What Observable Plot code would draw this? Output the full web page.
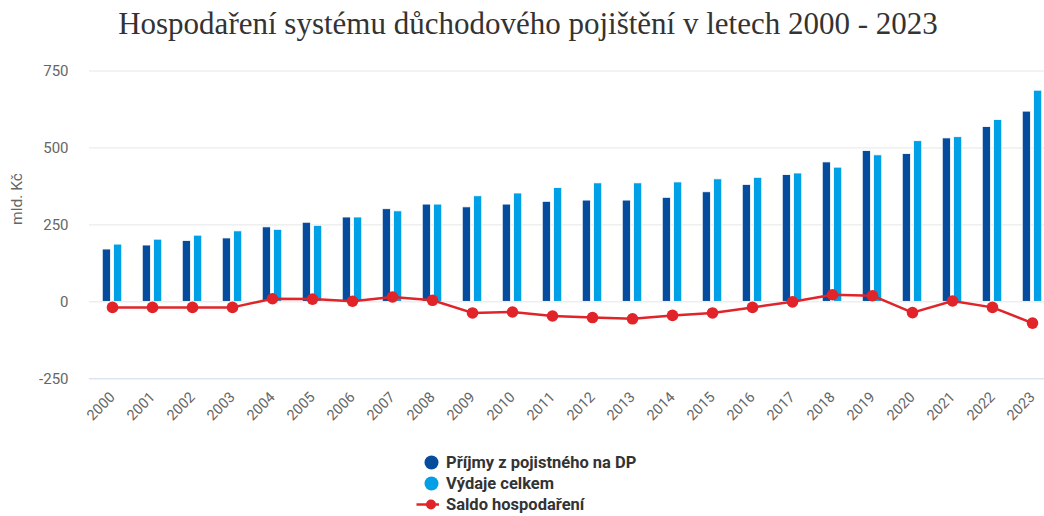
<!DOCTYPE html>
<html>
<head>
<meta charset="utf-8">
<script src="https://cdn.jsdelivr.net/npm/d3@7"></script>
<script src="https://cdn.jsdelivr.net/npm/@observablehq/plot@0.6"></script>
<style>
  html, body { margin: 0; padding: 0; background: #fff; }
  #wrap { position: relative; width: 1044px; height: 516px; overflow: hidden; }
  #title { position: absolute; left: 0; top: 8px; width: 1056px; text-align: center;
    font-family: "Liberation Serif", serif; font-size: 31px; line-height: 31px; color: #333; white-space: nowrap; }
  #chart { position: absolute; left: 0; top: 0; }
  #legend { position: absolute; left: 416px; top: 452px; font-family: Roboto, sans-serif; font-weight: bold;
    font-size: 16.5px; color: #333; }
  .row { display: flex; align-items: center; height: 21px; }
  .row svg { width: 24px; height: 21px; margin-right: 6px; }
</style>
</head>
<body>
<div id="wrap">
  <div id="title">Hospodaření systému důchodového pojištění v letech 2000 - 2023</div>
  <div id="chart"></div>
  <div id="legend"></div>
</div>
<script>
const years = ["2000","2001","2002","2003","2004","2005","2006","2007","2008","2009","2010","2011",
               "2012","2013","2014","2015","2016","2017","2018","2019","2020","2021","2022","2023"];
const prijmy = [170,183,198,206,242,257,274,301,316,307,316,325,329,329,338,356,380,412,453,490,480,531,568,618];
const vydaje = [186,202,215,229,234,247,274,294,316,343,352,370,385,385,388,398,403,417,436,476,522,535,591,686];
const saldo  = [-18,-18,-18,-18,10,9,2,16,5,-36,-33,-46,-51,-55,-44,-36,-18,0,23,20,-35,3,-18,-69];
const yTicks = [-250, 0, 250, 500, 750];

const seriesNames = ["Příjmy z pojistného na DP", "Výdaje celkem", "Saldo hospodaření"];
const colors = ["#064c9c", "#00a0e6", "#e0242a"];

const dPrijmy = years.map((y, i) => ({year: y, value: prijmy[i]}));
const dVydaje = years.map((y, i) => ({year: y, value: vydaje[i]}));
const dSaldo  = years.map((y, i) => ({year: y, value: saldo[i]}));

const W = 1044, H = 440;
const mL = 89, mR = -10, mT = 70.5, mB = 61.7;
const band = (W - mR - mL) / years.length;
const barW = 8.5, off = 5.6;

const plot = Plot.plot({
  width: W, height: H,
  marginLeft: mL, marginRight: mR, marginTop: mT, marginBottom: mB,
  style: {fontFamily: "Roboto, sans-serif", background: "transparent"},
  x: {type: "band", domain: years, paddingInner: 0, paddingOuter: 0, label: null},
  y: {domain: [-250, 750], label: null},
  marks: [
    Plot.ruleY(yTicks.filter(t => t > -250), {stroke: "#e6e6e6", strokeWidth: 1}),
    Plot.ruleY([-250], {stroke: "#ccd6eb", strokeWidth: 1}),
    Plot.barY(dPrijmy, {x: "year", y: "value", fill: colors[0], stroke: "#fff", strokeWidth: 0.8,
      insetLeft: band / 2 - off - barW / 2, insetRight: band / 2 + off - barW / 2}),
    Plot.barY(dVydaje, {x: "year", y: "value", fill: colors[1], stroke: "#fff", strokeWidth: 0.8,
      insetLeft: band / 2 + off - barW / 2, insetRight: band / 2 - off - barW / 2}),
    Plot.line(dSaldo, {x: "year", y: "value", stroke: colors[2], strokeWidth: 2.5}),
    Plot.dot(dSaldo, {x: "year", y: "value", fill: colors[2], r: 5.8}),
    Plot.axisY(yTicks, {tickSize: 0, tickPadding: 21, fontSize: 15, fill: "#666", label: null,
      tickFormat: d => String(d)}),
    Plot.axisX(years, {tickSize: 0, tickPadding: 16, tickRotate: -45, fontSize: 14.5, fill: "#666", label: null}),
    Plot.text(["mld. Kč"], {frameAnchor: "left", dx: -72, rotate: -90, fontSize: 15.5, fill: "#666"})
  ]
});
document.getElementById("chart").appendChild(plot);

const legend = document.getElementById("legend");
seriesNames.forEach((name, i) => {
  const row = document.createElement("div");
  row.className = "row";
  const sym = i < 2
    ? `<svg viewBox="0 0 24 21"><circle cx="15.5" cy="10.5" r="7" fill="${colors[i]}"/></svg>`
    : `<svg viewBox="0 0 24 21"><line x1="0.5" x2="23" y1="10.5" y2="10.5" stroke="${colors[i]}" stroke-width="2.5"/><circle cx="15" cy="10.5" r="5" fill="${colors[i]}"/></svg>`;
  row.innerHTML = sym + `<span>${name}</span>`;
  legend.appendChild(row);
});
</script>
</body>
</html>
